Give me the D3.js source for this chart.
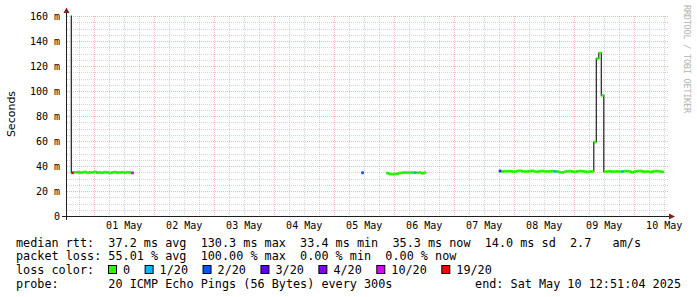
<!DOCTYPE html>
<html>
<head>
<meta charset="utf-8">
<script src="https://cdn.jsdelivr.net/npm/d3@7"></script>
<style>
  body { margin: 0; background: #fff; }
  svg { display: block; }
  text { white-space: pre; }
</style>
</head>
<body>
<svg id="chart-root" width="697" height="297"></svg>
<script>
// hours are counted from the graph start (10 days before the end stamp)
var segmentStarts = [1, 118, 128, 173];

var medianA = [175, 34.6, 34.9, 35.0, 34.7, 34.8, 35.2, 34.6, 34.8, 34.9, 35.3, 34.7, 34.8,
  34.6, 35.0, 34.9, 34.4, 34.8, 35.1, 34.7, 34.8, 34.9, 34.6, 35.0, 34.8, 34.5];
var lossA = [19, 19, 0, 0, 0, 0, 0, 0, 0, 0, 0, 0, 0, 0, 0, 0, 0, 0, 0, 0, 0, 0, 0, 0, 0, 10];

var medianDot = [34.6];
var lossDot = [2];

var medianB = [34.3, 33.6, 33.4, 33.5, 33.8, 34.4, 34.6, 34.8, 34.7, 34.6, 34.8, 34.7, 34.6,
  34.8, 34.2, 34.6];
var lossB = [0, 0, 0, 0, 0, 0, 0, 0, 0, 0, 0, 1, 0, 0, 0, 0];

var medianC = [36.0,
  35.6, 35.8, 35.7, 35.9, 35.6, 35.5, 36.0, 36.2, 35.8, 35.6, 35.7, 35.9, 36.1, 35.6, 35.4,
  35.8, 36.0, 35.7, 35.6, 35.8, 35.9, 35.7, 35.5, 35.0, 34.8, 35.4, 35.8, 35.9, 35.6, 35.3,
  35.7, 36.0, 35.8, 35.6, 35.2, 35.5, 35.7,
  59.2, 126, 130.3, 96.5,
  35.4, 35.6, 35.8, 35.5, 35.6, 35.7, 35.5, 35.6, 35.8, 35.9, 35.6, 34.9, 35.6, 35.9, 36.0,
  35.7, 35.4, 35.6, 35.2, 35.5, 35.8, 35.9, 35.6, 35.3];
var lossC = [3,
  0, 0, 0, 0, 0, 0, 0, 0, 0, 0, 0, 0, 0, 0, 0, 0, 0, 0, 0, 0, 0, 1, 0, 0, 0, 0, 0, 0, 0, 0,
  0, 0, 0, 0, 0, 0, 0,
  0, 0, 0, 0,
  0, 0, 0, 0, 0, 0, 0, 1, 0, 0, 0, 0, 0, 0, 0, 0, 0, 0, 0, 0, 0, 0, 0, 0];

var lossLevels = [0, 1, 2, 3, 4, 10, 19];
var lossLabels = ['0', '1/20', '2/20', '3/20', '4/20', '10/20', '19/20'];
var lossColors = ['#26ff00', '#00b8ff', '#0059ff', '#5e00ff', '#7e00ff', '#dd00ff', '#ff0000'];

var yTicks = [0, 20, 40, 60, 80, 100, 120, 140, 160];

var legendRows = [
  'median rtt:  37.2 ms avg  130.3 ms max  33.4 ms min  35.3 ms now  14.0 ms sd  2.7   am/s',
  'packet loss: 55.01 % avg  100.00 % max  0.00 % min  0.00 % now',
  'loss color:',
  'probe:       20 ICMP Echo Pings (56 Bytes) every 300s'
];
var endLabel = 'end: Sat May 10 12:51:04 2025';

const hour = 3600 * 1000;
var tEnd = Date.UTC(2025, 4, 10, 12, 51, 4);
var tStart = tEnd - 240 * hour;

var svg = d3.select('#chart-root');
var x = d3.scaleUtc().domain([tStart, tEnd]).range([66.3, 666.3]);
var y = d3.scaleLinear().domain([0, 160]).range([216, 16]);
var mono = 'DejaVu Sans Mono, monospace';

var segments = [
  { start: segmentStarts[0], median: medianA, loss: lossA },
  { start: segmentStarts[1], median: medianDot, loss: lossDot },
  { start: segmentStarts[2], median: medianB, loss: lossB },
  { start: segmentStarts[3], median: medianC, loss: lossC }
];

svg.append('clipPath').attr('id', 'plot-clip')
  .append('rect').attr('x', 66).attr('y', 15.5).attr('width', 602).attr('height', 201);

renderGrid();
renderData();
renderAxes();
renderLegend();

function hourTime(h) {
  return new Date(tStart + h * hour);
}

function renderGrid() {
  var g = svg.append('g');
  var minorColor = 'rgba(143,143,143,0.38)';
  var majorColor = 'rgba(222,79,79,0.42)';
  var minorY = d3.range(0, 161, 5).filter(function (v) { return v % 20 !== 0; });
  var days = d3.utcDay.range(new Date(tStart), new Date(tEnd));
  var quarters = d3.utcHour.every(6).range(new Date(tStart), new Date(tEnd))
    .filter(function (d) { return d.getUTCHours() !== 0; });

  g.selectAll('.minor-h').data(minorY).enter().append('line')
    .attr('x1', 67).attr('x2', 668)
    .attr('y1', function (d) { return Math.round(y(d)) + 0.5; })
    .attr('y2', function (d) { return Math.round(y(d)) + 0.5; })
    .attr('stroke', minorColor).attr('stroke-dasharray', '1,1');
  g.selectAll('.minor-v').data(quarters).enter().append('line')
    .attr('x1', function (d) { return Math.round(x(d)) + 0.5; })
    .attr('x2', function (d) { return Math.round(x(d)) + 0.5; })
    .attr('y1', 16).attr('y2', 216)
    .attr('stroke', minorColor).attr('stroke-dasharray', '1,1');
  g.selectAll('.major-h').data(yTicks.slice(1)).enter().append('line')
    .attr('x1', 67).attr('x2', 668)
    .attr('y1', function (d) { return Math.round(y(d)) + 0.5; })
    .attr('y2', function (d) { return Math.round(y(d)) + 0.5; })
    .attr('stroke', majorColor).attr('stroke-dasharray', '1,1');
  g.selectAll('.major-v').data(days).enter().append('line')
    .attr('x1', function (d) { return Math.round(x(d)) + 0.5; })
    .attr('x2', function (d) { return Math.round(x(d)) + 0.5; })
    .attr('y1', 16).attr('y2', 216)
    .attr('stroke', majorColor).attr('stroke-dasharray', '1,1');
}

function renderData() {
  var g = svg.append('g').attr('clip-path', 'url(#plot-clip)');
  var line = d3.line()
    .x(function (d) { return x(hourTime(d.h)); })
    .y(function (d) { return y(d.v); })
    .curve(d3.curveStepAfter);

  segments.forEach(function (seg) {
    var pts = seg.median.map(function (v, i) {
      return { h: seg.start + i, v: v, loss: seg.loss[i] };
    });
    var last = pts[pts.length - 1];
    g.append('path')
      .datum(pts.concat([{ h: last.h + 1, v: last.v }]))
      .attr('d', line)
      .attr('fill', 'none')
      .attr('stroke', '#202020')
      .attr('stroke-width', 1.2);

    g.selectAll(null).data(pts).enter().append('rect')
      .attr('x', function (d) { return x(hourTime(d.h)); })
      .attr('width', function (d) { return x(hourTime(d.h + 1)) - x(hourTime(d.h)); })
      .attr('y', function (d) { return y(d.v) - 1.4; })
      .attr('height', 2.8)
      .attr('fill', function (d) { return lossColors[lossLevels.indexOf(d.loss)]; });
  });
}

function renderAxes() {
  var g = svg.append('g');
  var noons = d3.utcDay.range(new Date(tStart), new Date(tEnd))
    .map(function (d) { return d3.utcHour.offset(d, 12); })
    .filter(function (d) { return +d <= tEnd; });

  g.append('line').attr('x1', 62).attr('x2', 670).attr('y1', 216.5).attr('y2', 216.5)
    .attr('stroke', '#1f1f1f');
  g.append('line').attr('x1', 66.5).attr('x2', 66.5).attr('y1', 11).attr('y2', 220)
    .attr('stroke', '#1f1f1f');
  g.append('path').attr('d', 'M63.5,13 L66.5,7.5 L69.5,13 Z').attr('fill', '#801f1f');
  g.append('path').attr('d', 'M669,213.5 L675,216.5 L669,219.5 Z').attr('fill', '#801f1f');

  g.selectAll('.ylab').data(yTicks).enter().append('text')
    .attr('x', 60).attr('y', function (d) { return y(d) + 3.5; })
    .attr('text-anchor', 'end')
    .attr('font-family', mono).attr('font-size', 10)
    .text(function (d) { return d === 0 ? '0' : d + ' m'; });

  g.selectAll('.xlab').data(noons).enter().append('text')
    .attr('x', function (d) { return x(d); }).attr('y', 229)
    .attr('text-anchor', 'middle')
    .attr('font-family', mono).attr('font-size', 10)
    .text(d3.utcFormat('%d %b'));

  g.append('text')
    .attr('transform', 'translate(15,114) rotate(-90)')
    .attr('text-anchor', 'middle')
    .attr('font-family', 'DejaVu Sans, sans-serif').attr('font-size', 11)
    .text('Seconds');

  g.append('text')
    .attr('transform', 'translate(683.5,5) rotate(90)')
    .attr('font-family', mono).attr('font-size', 8.5)
    .attr('textLength', 108).attr('lengthAdjust', 'spacing')
    .attr('fill', '#b3b3b3')
    .text('RRDTOOL / TOBI OETIKER');
}

function renderLegend() {
  var g = svg.append('g').attr('font-family', mono).attr('font-size', 11.8);
  var baselines = [246.5, 260.3, 274, 287.8];

  g.selectAll('.row').data(legendRows).enter().append('text')
    .attr('x', 16).attr('y', function (d, i) { return baselines[i]; })
    .text(function (d) { return d; });

  g.append('text').attr('x', 681).attr('y', baselines[3])
    .attr('text-anchor', 'end').text(endLabel);

  var bx = 108.5;
  lossLabels.forEach(function (label, i) {
    g.append('rect')
      .attr('x', bx).attr('y', 265.5).attr('width', 8).attr('height', 8)
      .attr('fill', lossColors[i]).attr('stroke', '#000').attr('stroke-width', 1);
    var t = g.append('text').attr('x', bx + 14.5).attr('y', baselines[2]).text(label);
    bx = bx + 14.5 + t.node().getComputedTextLength() + 15;
  });
}
</script>
</body>
</html>
